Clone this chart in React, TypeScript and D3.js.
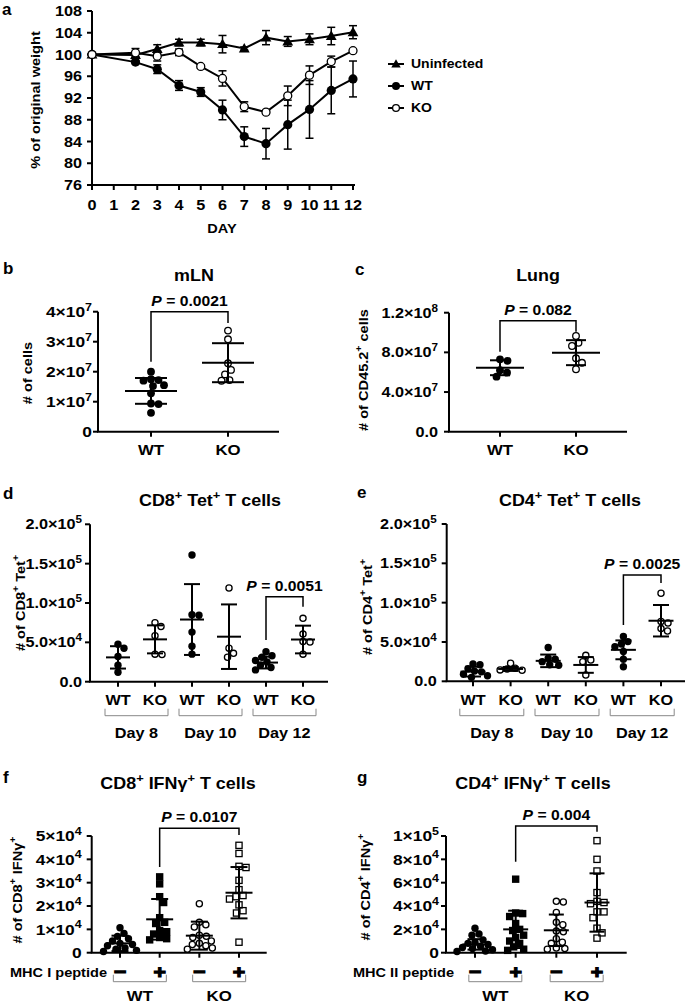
import * as d3 from "d3";

const FONT = "'Liberation Sans', Arial, Helvetica, sans-serif";
const SX = 1.12; // glyphs in the figure are slightly wide

// ---- a: body weight
const days = [0, 2, 3, 4, 5, 6, 7, 8, 9, 10, 11, 12];
const dayTicks = [0, 1, 2, 3, 4, 5, 6, 7, 8, 9, 10, 11, 12];
const weightTicks = [76, 80, 84, 88, 92, 96, 100, 104, 108];
const uninfectedWeight = [100, 99.9, 101.0, 102.2, 102.2, 101.9, 101.1, 103.1, 102.4, 102.8, 103.4, 104.1];
const uninfectedErr = [0, 0.4, 0.8, 0.6, 0.6, 1.6, 0.3, 1.3, 0.9, 1.0, 1.6, 1.2];
const wtWeight = [100, 98.6, 97.3, 94.3, 93.1, 89.8, 84.9, 83.6, 87.1, 89.9, 93.4, 95.5];
const wtWeightErr = [0, 0.3, 0.8, 0.9, 0.8, 1.8, 1.8, 2.8, 4.5, 5.3, 4.3, 3.3];
const koWeight = [100, 100.3, 99.7, 100.4, 97.8, 95.6, 90.4, 89.4, 92.4, 96.2, 98.7, 100.7];
const koWeightErr = [0, 0.8, 0.9, 0.6, 0.3, 1.4, 0.9, 0.3, 1.8, 1.7, 1.0, 0.3];

// ---- b: mLN
const genotypes = ["WT", "KO"];
const mlnWT = [2.0e7, 1.75e7, 1.72e7, 1.7e7, 1.55e7, 1.52e7, 1.28e7, 0.94e7, 0.92e7, 0.63e7];
const mlnKO = [3.37e7, 3.08e7, 2.28e7, 2.06e7, 1.91e7, 1.72e7, 1.7e7];
const mlnMean = [1.36e7, 2.3e7];
const mlnSd = [0.43e7, 0.65e7];
const mlnTicks = [0, 1e7, 2e7, 3e7, 4e7];
const mlnTickLabels = ["0", "1×10^{7}", "2×10^{7}", "3×10^{7}", "4×10^{7}"];

// ---- c: lung
const lungWT = [7.3e7, 7.15e7, 6.2e7, 5.95e7, 5.55e7];
const lungKO = [9.65e7, 8.97e7, 8.64e7, 7.4e7, 6.95e7, 6.3e7];
const lungMean = [6.45e7, 7.97e7];
const lungSd = [0.75e7, 1.26e7];
const lungTicks = [0, 4e7, 8e7, 1.2e8];
const lungTickLabels = ["0.0", "4.0×10^{7}", "8.0×10^{7}", "1.2×10^{8}"];

// ---- d / e: tetramer+ cells by day
const tetGroups = ["WT8", "KO8", "WT10", "KO10", "WT12", "KO12"];
const tetGroupLabels = ["WT", "KO", "WT", "KO", "WT", "KO"];
const dayLabels = ["Day 8", "Day 10", "Day 12"];
const tetTicks = [0, 5e4, 1e5, 1.5e5, 2e5];
const tetTickLabels = ["0.0", "5.0×10^{4}", "1.0×10^{5}", "1.5×10^{5}", "2.0×10^{5}"];
const cd8Tet = [
  [4.75e4, 4.25e4, 3.2e4, 2.1e4, 1.2e4],
  [7.5e4, 7.0e4, 5.85e4, 3.5e4, 3.45e4],
  [16.1e4, 8.5e4, 8.45e4, 6.3e4, 4.5e4, 3.5e4],
  [11.9e4, 4.25e4, 3.6e4, 3.1e4],
  [3.8e4, 3.3e4, 3.1e4, 2.7e4, 2.5e4, 2.1e4, 1.8e4, 1.5e4],
  [8.05e4, 6.05e4, 5.1e4, 5.05e4, 3.5e4],
];
const cd8TetMean = [3.09e4, 5.38e4, 7.9e4, 5.72e4, 2.43e4, 5.36e4];
const cd8TetSd = [1.42e4, 1.78e4, 4.5e4, 4.1e4, 0.75e4, 1.76e4];
const cd4Tet = [
  [2.2e4, 2.1e4, 1.6e4, 1.3e4, 1.2e4, 0.9e4, 0.7e4, 0.5e4],
  [2.3e4, 1.65e4, 1.55e4, 1.45e4, 1.4e4],
  [4.3e4, 2.95e4, 2.8e4, 2.5e4, 2.1e4, 2.05e4],
  [3.3e4, 2.7e4, 2.5e4, 0.8e4],
  [5.7e4, 5.05e4, 4.75e4, 4.4e4, 3.8e4, 2.8e4, 1.85e4],
  [11.2e4, 7.6e4, 7.4e4, 6.7e4, 6.4e4],
];
const cd4TetMean = [1.23e4, 1.57e4, 2.6e4, 2.08e4, 4.0e4, 7.7e4];
const cd4TetSd = [0.62e4, 0.25e4, 0.8e4, 1.0e4, 1.2e4, 2.0e4];

// ---- f / g: IFNγ+ cells
const ifnGroups = ["WT-", "WT+", "KO-", "KO+"];
const peptideSigns = ["−", "+", "−", "+"];
const cd8IfnTicks = [0, 1e4, 2e4, 3e4, 4e4, 5e4];
const cd8IfnTickLabels = ["0", "1×10^{4}", "2×10^{4}", "3×10^{4}", "4×10^{4}", "5×10^{4}"];
const cd8Ifn = [
  [1.07e4, 0.83e4, 0.7e4, 0.6e4, 0.5e4, 0.4e4, 0.35e4, 0.3e4, 0.2e4, 0.15e4, 0.1e4, 0.05e4],
  [3.25e4, 2.95e4, 2.4e4, 2.15e4, 1.5e4, 1.3e4, 1.25e4, 0.95e4, 0.9e4, 0.8e4, 0.65e4, 0.6e4, 0.55e4],
  [2.1e4, 1.3e4, 1.2e4, 1.1e4, 0.75e4, 0.7e4, 0.65e4, 0.5e4, 0.4e4, 0.35e4, 0.3e4, 0.2e4, 0.15e4],
  [4.6e4, 4.25e4, 3.7e4, 3.65e4, 3.1e4, 2.7e4, 2.45e4, 2.4e4, 2.3e4, 2.05e4, 1.8e4, 1.7e4, 0.45e4],
];
const cd8IfnMean = [0.4e4, 1.43e4, 0.73e4, 2.57e4];
const cd8IfnSd = [0.33e4, 0.87e4, 0.6e4, 1.1e4];
const cd4IfnTicks = [0, 2e4, 4e4, 6e4, 8e4, 1e5];
const cd4IfnTickLabels = ["0", "2×10^{4}", "4×10^{4}", "6×10^{4}", "8×10^{4}", "1×10^{5}"];
const cd4Ifn = [
  [2.1e4, 1.6e4, 1.5e4, 1.1e4, 0.9e4, 0.8e4, 0.7e4, 0.55e4, 0.45e4, 0.35e4, 0.25e4, 0.15e4, 0.1e4],
  [6.3e4, 3.4e4, 3.35e4, 3.1e4, 2.5e4, 2.0e4, 1.9e4, 1.5e4, 1.3e4, 1.0e4, 0.8e4, 0.5e4, 0.3e4, 0.2e4],
  [4.4e4, 4.35e4, 3.45e4, 2.6e4, 2.4e4, 1.85e4, 1.8e4, 1.2e4, 0.9e4, 0.8e4, 0.4e4, 0.35e4, 0.3e4],
  [9.6e4, 8.0e4, 7.0e4, 5.15e4, 4.4e4, 4.3e4, 4.2e4, 3.5e4, 3.5e4, 3.0e4, 2.1e4, 1.7e4, 1.25e4],
];
const cd4IfnMean = [0.71e4, 2.0e4, 1.92e4, 4.3e4];
const cd4IfnSd = [0.45e4, 1.6e4, 1.35e4, 2.5e4];

// text with ^{...} superscripts
function Rich({ s, fs }: { s: string; fs: number }) {
  const parts = s.split(/(\^\{[^}]*\})/).filter((p) => p.length);
  let up = false;
  return (
    <>
      {parts.map((p, i) => {
        if (p.startsWith("^{")) {
          up = true;
          return (
            <tspan key={i} dy={-fs * 0.42} fontSize={fs * 0.72}>
              {p.slice(2, -1)}
            </tspan>
          );
        }
        const dy = up ? fs * 0.42 : undefined;
        up = false;
        return (
          <tspan key={i} dy={dy}>
            {p}
          </tspan>
        );
      })}
    </>
  );
}

function Txt({ x, y, fs, anchor = "middle", rot = 0, children, sx = SX, stroke }: any) {
  return (
    <text
      transform={`translate(${x},${y})${rot ? ` rotate(${rot})` : ""} scale(${sx},1)`}
      y={fs * 0.35}
      textAnchor={anchor}
      fontSize={fs}
      fontWeight="bold"
      fontFamily={FONT}
      stroke={stroke}
      strokeWidth={stroke ? 1.2 : undefined}
    >
      {children}
    </text>
  );
}

function Marker({ shape, x, y, r }: any) {
  if (shape === "dot") return <circle cx={x} cy={y} r={r} fill="#000" />;
  if (shape === "ring") return <circle cx={x} cy={y} r={r - 0.6} fill="#fff" stroke="#000" strokeWidth={1.3} />;
  if (shape === "hollow") return <circle cx={x} cy={y} r={r - 0.6} fill="none" stroke="#000" strokeWidth={1.3} />;
  if (shape === "square") return <rect x={x - r} y={y - r} width={2 * r} height={2 * r} fill="#000" />;
  if (shape === "box")
    return <rect x={x - r + 0.6} y={y - r + 0.6} width={2 * r - 1.2} height={2 * r - 1.2} fill="none" stroke="#000" strokeWidth={1.3} />;
  const tri = d3.symbol(d3.symbolTriangle, r * r * 2.4)();
  return <path transform={`translate(${x},${y + 0.8})`} d={tri || ""} fill="#000" />;
}

// spread points sideways so they do not overlap (simple dodge)
function dodge(ys: number[], d: number) {
  const order = d3.range(ys.length).sort((a, b) => ys[a] - ys[b]);
  const xs = new Array(ys.length).fill(0);
  const placed: number[] = [];
  for (const i of order) {
    for (let k = 0; k < 400; k++) {
      const c = k === 0 ? 0 : (k % 2 ? 1 : -1) * Math.ceil(k / 2) * 0.5;
      if (placed.every((j) => (xs[j] - c) ** 2 + (ys[j] - ys[i]) ** 2 >= d * d)) {
        xs[i] = c;
        break;
      }
    }
    placed.push(i);
  }
  return xs;
}

function YAxis({ y, x, ticks, labels, fs, gap }: any) {
  const [r0, r1] = y.range();
  return (
    <g>
      <line x1={x} x2={x} y1={r0} y2={r1} stroke="#000" strokeWidth={2} />
      {ticks.map((t: number, i: number) => (
        <g key={i}>
          <line x1={x - 5} x2={x} y1={y(t)} y2={y(t)} stroke="#000" strokeWidth={2} />
          <Txt x={x - gap} y={y(t)} fs={fs} anchor="end">
            <Rich s={labels[i]} fs={fs} />
          </Txt>
        </g>
      ))}
    </g>
  );
}

function XAxis({ x, y0, x0, x1 }: any) {
  return (
    <g stroke="#000" strokeWidth={2}>
      <line x1={x0 - 1} x2={x1} y1={y0} y2={y0} />
      {x.domain().map((k: string) => (
        <line key={k} x1={x(k)} x2={x(k)} y1={y0} y2={y0 + 5} />
      ))}
    </g>
  );
}

function Scatter({ x, y, values, means, sds, shapes, r, meanHalf, capHalf }: any) {
  const keys: string[] = x.domain();
  return (
    <g>
      {keys.map((k, gi) => {
        const ys = values[gi].map((v: number) => y(v));
        const dx = dodge(ys, r * 2 * 0.92);
        return (
          <g key={k}>
            {ys.map((yy: number, i: number) => (
              <Marker key={i} shape={shapes[gi]} x={x(k) + dx[i]} y={yy} r={r} />
            ))}
          </g>
        );
      })}
      {keys.map((k, gi) => {
        const cx = x(k);
        const m = y(means[gi]);
        const t = y(means[gi] + sds[gi]);
        const b = y(Math.max(0, means[gi] - sds[gi]));
        return (
          <g key={k} stroke="#000" strokeWidth={2}>
            <line x1={cx - meanHalf} x2={cx + meanHalf} y1={m} y2={m} />
            <line x1={cx} x2={cx} y1={t} y2={b} />
            <line x1={cx - capHalf} x2={cx + capHalf} y1={t} y2={t} />
            <line x1={cx - capHalf} x2={cx + capHalf} y1={b} y2={b} />
          </g>
        );
      })}
    </g>
  );
}

function PBracket({ x, y, a, b, top, left, right, label }: any) {
  const xa = x(a);
  const xb = x(b);
  const yt = y(top);
  return (
    <g>
      <path d={`M${xa},${y(left)}V${yt}H${xb}V${y(right)}`} fill="none" stroke="#000" strokeWidth={1.5} />
      <Txt x={(xa + xb) / 2} y={yt - 11} fs={14}>
        <tspan fontStyle="italic">P</tspan> = {label}
      </Txt>
    </g>
  );
}

function GroupBracket({ xa, xb, y0, label, labelY, fs }: any) {
  return (
    <g>
      <path d={`M${xa},${y0 - 7}V${y0}H${xb}V${y0 - 7}`} fill="none" stroke="#888" strokeWidth={1} />
      <Txt x={(xa + xb) / 2} y={labelY} fs={fs}>
        {label}
      </Txt>
    </g>
  );
}

function Letter({ x, y, c }: any) {
  return (
    <text x={x} y={y + 6} fontSize={17} fontWeight="bold" fontFamily={FONT}>
      {c}
    </text>
  );
}

export default function App() {
  // a
  const ax = d3.scaleLinear().domain([0, 12]).range([92, 353]);
  const ay = d3.scaleLinear().domain([76, 108]).range([185, 11]);
  const weightSeries = [
    { name: "Uninfected", v: uninfectedWeight, e: uninfectedErr, shape: "triangle" },
    { name: "WT", v: wtWeight, e: wtWeightErr, shape: "dot" },
    { name: "KO", v: koWeight, e: koWeightErr, shape: "ring" },
  ];
  const line = (v: number[]) => d3.line<number>().x((_, i) => ax(days[i])).y((d) => ay(d))(v) || "";

  // b, c
  const bx = d3.scalePoint<string>().domain(genotypes).range([151, 228]);
  const by = d3.scaleLinear().domain([0, 4e7]).range([431.7, 311.7]);
  const cx = d3.scalePoint<string>().domain(genotypes).range([500, 576]);
  const cy = d3.scaleLinear().domain([0, 1.2e8]).range([431.7, 312.7]);

  // d, e
  const dx = d3.scalePoint<string>().domain(tetGroups).range([118, 303]);
  const dy = d3.scaleLinear().domain([0, 2e5]).range([681.7, 524.3]);
  const ex = d3.scalePoint<string>().domain(tetGroups).range([473, 661]);
  const ey = d3.scaleLinear().domain([0, 2e5]).range([681.3, 524]);

  // f, g
  const fx = d3.scalePoint<string>().domain(ifnGroups).range([120, 239]);
  const fy = d3.scaleLinear().domain([0, 5e4]).range([952.7, 836]);
  const gx = d3.scalePoint<string>().domain(ifnGroups).range([475, 597]);
  const gy = d3.scaleLinear().domain([0, 1e5]).range([952.7, 836]);

  const tetShapes = ["dot", "hollow", "dot", "hollow", "dot", "hollow"];
  const ifnShapes = ["dot", "square", "hollow", "box"];

  const dayPairs = (x: any, half: number) =>
    dayLabels.map((lab, i) => {
      const c = (x(tetGroups[2 * i]) + x(tetGroups[2 * i + 1])) / 2;
      return { lab, xa: c - half, xb: c + half };
    });
  const genoPairs = (x: any, half: number) =>
    genotypes.map((lab, i) => {
      const c = (x(ifnGroups[2 * i]) + x(ifnGroups[2 * i + 1])) / 2;
      return { lab, xa: c - half, xb: c + half };
    });

  return (
    <svg width={685} height={1004} style={{ position: "absolute", left: 0, top: 0, background: "#fff" }} fontFamily={FONT}>
      {/* ---------- a ---------- */}
      <Letter x={2} y={9} c="a" />
      <YAxis y={ay} x={92} ticks={weightTicks} labels={weightTicks.map(String)} fs={14.5} gap={10} />
      <line x1={91} x2={355} y1={185} y2={185} stroke="#000" strokeWidth={2} />
      {dayTicks.map((d) => (
        <g key={d}>
          <line x1={ax(d)} x2={ax(d)} y1={185} y2={190} stroke="#000" strokeWidth={2} />
          <Txt x={ax(d)} y={205} fs={14.5}>
            {d}
          </Txt>
        </g>
      ))}
      <Txt x={222} y={228} fs={13}>
        DAY
      </Txt>
      <Txt x={35} y={100} fs={13} rot={-90}>
        % of original weight
      </Txt>
      {weightSeries.map((s) => (
        <g key={s.name}>
          {s.v.map((v, i) =>
            s.e[i] > 0 ? (
              <g key={i} stroke="#000" strokeWidth={1.5}>
                <line x1={ax(days[i])} x2={ax(days[i])} y1={ay(v - s.e[i])} y2={ay(v + s.e[i])} />
                <line x1={ax(days[i]) - 4} x2={ax(days[i]) + 4} y1={ay(v - s.e[i])} y2={ay(v - s.e[i])} />
                <line x1={ax(days[i]) - 4} x2={ax(days[i]) + 4} y1={ay(v + s.e[i])} y2={ay(v + s.e[i])} />
              </g>
            ) : null
          )}
        </g>
      ))}
      {weightSeries.map((s) => (
        <path key={s.name} d={line(s.v)} fill="none" stroke="#000" strokeWidth={2} />
      ))}
      {weightSeries.map((s) => (
        <g key={s.name}>
          {s.v.map((v, i) => (
            <Marker key={i} shape={s.shape} x={ax(days[i])} y={ay(v)} r={4.6} />
          ))}
        </g>
      ))}
      {weightSeries.map((s, i) => (
        <g key={s.name}>
          <line x1={388} x2={404} y1={64 + i * 22} y2={64 + i * 22} stroke="#000" strokeWidth={2} />
          <Marker shape={s.shape} x={396} y={64 + i * 22} r={4} />
          <Txt x={411} y={64 + i * 22} fs={12.5} anchor="start">
            {s.name}
          </Txt>
        </g>
      ))}

      {/* ---------- b ---------- */}
      <Letter x={3} y={268} c="b" />
      <Txt x={194} y={275} fs={16}>
        mLN
      </Txt>
      <Txt x={27} y={373} fs={13} rot={-90}>
        # of cells
      </Txt>
      <YAxis y={by} x={98} ticks={mlnTicks} labels={mlnTickLabels} fs={15.5} gap={6} />
      <XAxis x={bx} y0={431.7} x0={98} x1={279} />
      {genotypes.map((g) => (
        <Txt key={g} x={bx(g)} y={450} fs={15}>
          {g}
        </Txt>
      ))}
      <Scatter x={bx} y={by} values={[mlnWT, mlnKO]} means={mlnMean} sds={mlnSd} shapes={["dot", "hollow"]} r={3.9} meanHalf={26} capHalf={16} />
      <PBracket x={bx} y={by} a="WT" b="KO" top={4e7} left={2.33e7} right={3.62e7} label="0.0021" />

      {/* ---------- c ---------- */}
      <Letter x={355} y={269} c="c" />
      <Txt x={538} y={275} fs={16}>
        Lung
      </Txt>
      <Txt x={363} y={370} fs={13} rot={-90}>
        <Rich s="# of CD45.2^{+} cells" fs={13} />
      </Txt>
      <YAxis y={cy} x={449} ticks={lungTicks} labels={lungTickLabels} fs={14.5} gap={11} />
      <XAxis x={cx} y0={431.7} x0={449} x1={627} />
      {genotypes.map((g) => (
        <Txt key={g} x={cx(g)} y={450} fs={15}>
          {g}
        </Txt>
      ))}
      <Scatter x={cx} y={cy} values={[lungWT, lungKO]} means={lungMean} sds={lungSd} shapes={["dot", "hollow"]} r={3.9} meanHalf={24} capHalf={10} />
      <PBracket x={cx} y={cy} a="WT" b="KO" top={1.12e8} left={0.807e8} right={1.008e8} label="0.082" />

      {/* ---------- d ---------- */}
      <Letter x={3} y={493} c="d" />
      <Txt x={210} y={500} fs={16}>
        <Rich s="CD8^{+} Tet^{+} T cells" fs={16} />
      </Txt>
      <Txt x={20} y={603} fs={13} rot={-90}>
        <Rich s="# of CD8^{+} Tet^{+}" fs={13} />
      </Txt>
      <YAxis y={dy} x={90} ticks={tetTicks} labels={tetTickLabels} fs={14.5} gap={8} />
      <XAxis x={dx} y0={681.7} x0={90} x1={328} />
      {tetGroups.map((g, i) => (
        <Txt key={g} x={dx(g)} y={700} fs={14.5}>
          {tetGroupLabels[i]}
        </Txt>
      ))}
      {dayPairs(dx, 31.5).map((p) => (
        <GroupBracket key={p.lab} xa={p.xa} xb={p.xb} y0={715.7} label={p.lab} labelY={733} fs={14.5} />
      ))}
      <Scatter x={dx} y={dy} values={cd8Tet} means={cd8TetMean} sds={cd8TetSd} shapes={tetShapes} r={3.7} meanHalf={12} capHalf={8} />
      <PBracket x={dx} y={dy} a="WT12" b="KO12" top={1.08e5} left={0.53e5} right={0.953e5} label="0.0051" />

      {/* ---------- e ---------- */}
      <Letter x={357} y={492} c="e" />
      <Txt x={570} y={500} fs={16}>
        <Rich s="CD4^{+} Tet^{+} T cells" fs={16} />
      </Txt>
      <Txt x={367} y={607} fs={13} rot={-90}>
        <Rich s="# of CD4^{+} Tet^{+}" fs={13} />
      </Txt>
      <YAxis y={ey} x={446.7} ticks={tetTicks} labels={tetTickLabels} fs={14.5} gap={10} />
      <XAxis x={ex} y0={681.3} x0={446.7} x1={685} />
      {tetGroups.map((g, i) => (
        <Txt key={g} x={ex(g)} y={700} fs={14.5}>
          {tetGroupLabels[i]}
        </Txt>
      ))}
      {dayPairs(ex, 32).map((p) => (
        <GroupBracket key={p.lab} xa={p.xa} xb={p.xb} y0={715.7} label={p.lab} labelY={733} fs={14.5} />
      ))}
      <Scatter x={ex} y={ey} values={cd4Tet} means={cd4TetMean} sds={cd4TetSd} shapes={tetShapes} r={3.7} meanHalf={12.5} capHalf={8} />
      <PBracket x={ex} y={ey} a="WT12" b="KO12" top={1.35e5} left={0.716e5} right={1.25e5} label="0.0025" />

      {/* ---------- f ---------- */}
      <Letter x={3} y={777} c="f" />
      <Txt x={178} y={783} fs={16}>
        <Rich s="CD8^{+} IFNγ^{+} T cells" fs={16} />
      </Txt>
      <Txt x={17} y={890} fs={13} rot={-90}>
        <Rich s="# of CD8^{+} IFNγ^{+}" fs={13} />
      </Txt>
      <YAxis y={fy} x={91.7} ticks={cd8IfnTicks} labels={cd8IfnTickLabels} fs={15.5} gap={10} />
      <XAxis x={fx} y0={952.7} x0={91.7} x1={266.7} />
      <Txt x={107} y={972.7} fs={13} anchor="end">
        MHC I peptide
      </Txt>
      {ifnGroups.map((g, i) => (
        <Txt key={g} x={fx(g)} y={971} fs={19} stroke="#000">
          {peptideSigns[i]}
        </Txt>
      ))}
      {genoPairs(fx, 26.5).map((p) => (
        <GroupBracket key={p.lab} xa={p.xa} xb={p.xb} y0={981.7} label={p.lab} labelY={995.5} fs={15} />
      ))}
      <Scatter x={fx} y={fy} values={cd8Ifn} means={cd8IfnMean} sds={cd8IfnSd} shapes={ifnShapes} r={3.7} meanHalf={13.5} capHalf={8.5} />
      <PBracket x={fx} y={fy} a="WT+" b="KO+" top={5.33e4} left={3.67e4} right={5.04e4} label="0.0107" />

      {/* ---------- g ---------- */}
      <Letter x={357} y={777} c="g" />
      <Txt x={533} y={783} fs={16}>
        <Rich s="CD4^{+} IFNγ^{+} T cells" fs={16} />
      </Txt>
      <Txt x={365} y={887} fs={13} rot={-90}>
        <Rich s="# of CD4^{+} IFNγ^{+}" fs={13} />
      </Txt>
      <YAxis y={gy} x={446} ticks={cd4IfnTicks} labels={cd4IfnTickLabels} fs={15.5} gap={7} />
      <XAxis x={gx} y0={952.7} x0={446} x1={626.7} />
      <Txt x={454} y={972.7} fs={13} anchor="end">
        MHC II peptide
      </Txt>
      {ifnGroups.map((g, i) => (
        <Txt key={g} x={gx(g)} y={971} fs={19} stroke="#000">
          {peptideSigns[i]}
        </Txt>
      ))}
      {genoPairs(gx, 26.5).map((p) => (
        <GroupBracket key={p.lab} xa={p.xa} xb={p.xb} y0={981.7} label={p.lab} labelY={995.5} fs={15} />
      ))}
      <Scatter x={gx} y={gy} values={cd4Ifn} means={cd4IfnMean} sds={cd4IfnSd} shapes={ifnShapes} r={3.7} meanHalf={12.5} capHalf={7.5} />
      <PBracket x={gx} y={gy} a="WT+" b="KO+" top={1.086e5} left={0.78e5} right={1.037e5} label="0.004" />
    </svg>
  );
}
